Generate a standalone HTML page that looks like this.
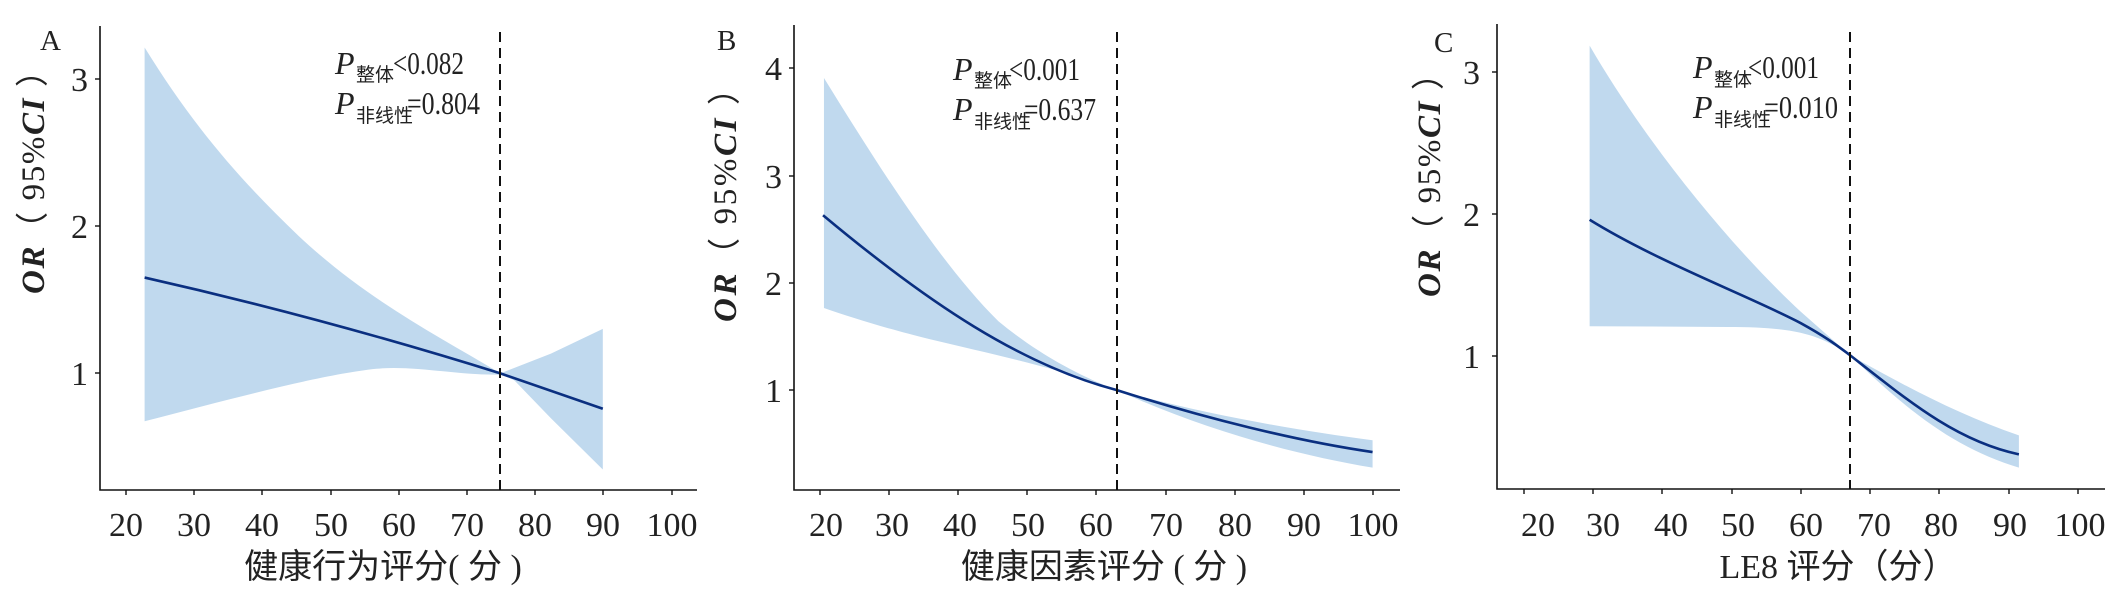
<!DOCTYPE html>
<html><head><meta charset="utf-8"><style>
html,body{margin:0;padding:0;background:#fff;}
svg{display:block;}
text{font-family:"Liberation Serif","Noto Serif CJK SC","Noto Sans CJK SC",serif;fill:#222;}
.cjk{font-family:"Liberation Serif","Noto Sans CJK SC",sans-serif;}
</style></head><body>
<svg width="2126" height="593" viewBox="0 0 2126 593" xmlns="http://www.w3.org/2000/svg">
<!-- ============ Panel A ============ -->
<g transform="scale(0.4591,0.3802)">
<path fill="#c0d9ee" d="M315,125 C420,330 520,470 650,620 C800,790 950,880 1090,982 L1200,930 L1313,865 L1313,1235 L1200,1100 L1120,1000 L1090,985 C1000,988 900,960 820,970 C700,985 500,1050 315,1108 Z"/>
<path fill="none" stroke="#0a2f80" stroke-width="2.6" vector-effect="non-scaling-stroke" d="M315,730 Q700,835 1090,982 L1313,1075"/>
</g>
<line x1="500" y1="32" x2="500" y2="490" stroke="#111" stroke-width="2" stroke-dasharray="10,6"/>
<path d="M100,26 V490 H697" fill="none" stroke="#111" stroke-width="1.6"/>
<g stroke="#111" stroke-width="1.4">
<line x1="95" y1="79" x2="100" y2="79"/><line x1="95" y1="226" x2="100" y2="226"/><line x1="95" y1="373" x2="100" y2="373"/>
<line x1="126" y1="490" x2="126" y2="495"/><line x1="194" y1="490" x2="194" y2="495"/><line x1="262" y1="490" x2="262" y2="495"/><line x1="331" y1="490" x2="331" y2="495"/><line x1="399" y1="490" x2="399" y2="495"/><line x1="467" y1="490" x2="467" y2="495"/><line x1="535" y1="490" x2="535" y2="495"/><line x1="603" y1="490" x2="603" y2="495"/><line x1="672" y1="490" x2="672" y2="495"/>
</g>
<g font-size="34" text-anchor="end"><text x="88" y="91">3</text><text x="88" y="238">2</text><text x="88" y="385">1</text></g>
<g font-size="34" text-anchor="middle"><text x="126" y="536">20</text><text x="194" y="536">30</text><text x="262" y="536">40</text><text x="331" y="536">50</text><text x="399" y="536">60</text><text x="467" y="536">70</text><text x="535" y="536">80</text><text x="603" y="536">90</text><text x="672" y="536">100</text></g>
<text class="cjk" x="383" y="578" font-size="34" text-anchor="middle">健康行为评分( 分 )</text>
<text x="40" y="50" font-size="29">A</text>
<text transform="translate(44,174) rotate(-90)" font-size="33" text-anchor="middle" class="cjk" textLength="240" lengthAdjust="spacing"><tspan font-style="italic" font-weight="bold">OR</tspan>（ 95%<tspan font-style="italic" font-weight="bold">CI</tspan> ）</text>
<text x="335" y="74" font-size="32" font-style="italic">P</text>
<text class="cjk" x="356" y="81" font-size="19">整体</text>
<text x="393" y="74" font-size="32" textLength="71" lengthAdjust="spacingAndGlyphs">&lt;0.082</text>
<text x="335" y="114" font-size="32" font-style="italic">P</text>
<text class="cjk" x="356" y="122" font-size="19">非线性</text>
<text x="407" y="114" font-size="32" textLength="73" lengthAdjust="spacingAndGlyphs">=0.804</text>

<!-- ============ Panel B ============ -->
<g transform="translate(700,0) scale(0.4591,0.3802)">
<path fill="#c0d9ee" d="M270,205 C380,420 520,690 650,845 C750,945 850,1000 908,1026 C1100,1090 1300,1132 1465,1158 L1465,1230 C1300,1197 1100,1132 908,1026 C800,975 650,935 500,892 C400,862 330,835 270,810 Z"/>
<path fill="none" stroke="#0a2f80" stroke-width="2.6" vector-effect="non-scaling-stroke" d="M268,566 C500,800 700,960 908,1026 C1100,1100 1300,1160 1465,1189"/>
</g>
<line x1="1117" y1="32" x2="1117" y2="490" stroke="#111" stroke-width="2" stroke-dasharray="10,6"/>
<path d="M794,25 V490 H1400" fill="none" stroke="#111" stroke-width="1.6"/>
<g stroke="#111" stroke-width="1.4">
<line x1="789" y1="68" x2="794" y2="68"/><line x1="789" y1="176" x2="794" y2="176"/><line x1="789" y1="283" x2="794" y2="283"/><line x1="789" y1="390" x2="794" y2="390"/>
<line x1="820" y1="490" x2="820" y2="495"/><line x1="889" y1="490" x2="889" y2="495"/><line x1="958" y1="490" x2="958" y2="495"/><line x1="1027" y1="490" x2="1027" y2="495"/><line x1="1096" y1="490" x2="1096" y2="495"/><line x1="1166" y1="490" x2="1166" y2="495"/><line x1="1235" y1="490" x2="1235" y2="495"/><line x1="1304" y1="490" x2="1304" y2="495"/><line x1="1373" y1="490" x2="1373" y2="495"/>
</g>
<g font-size="34" text-anchor="end"><text x="782" y="80">4</text><text x="782" y="188">3</text><text x="782" y="295">2</text><text x="782" y="402">1</text></g>
<g font-size="34" text-anchor="middle"><text x="826" y="536">20</text><text x="892" y="536">30</text><text x="960" y="536">40</text><text x="1028" y="536">50</text><text x="1096" y="536">60</text><text x="1166" y="536">70</text><text x="1235" y="536">80</text><text x="1304" y="536">90</text><text x="1373" y="536">100</text></g>
<text class="cjk" x="1104" y="578" font-size="34" text-anchor="middle">健康因素评分 ( 分 )</text>
<text x="717" y="50" font-size="29">B</text>
<text transform="translate(736,197) rotate(-90)" font-size="33" text-anchor="middle" class="cjk" textLength="250" lengthAdjust="spacing"><tspan font-style="italic" font-weight="bold">OR</tspan>（ 95%<tspan font-style="italic" font-weight="bold">CI</tspan> ）</text>
<text x="953" y="80" font-size="32" font-style="italic">P</text>
<text class="cjk" x="974" y="87" font-size="19">整体</text>
<text x="1009" y="80" font-size="32" textLength="71" lengthAdjust="spacingAndGlyphs">&lt;0.001</text>
<text x="953" y="120" font-size="32" font-style="italic">P</text>
<text class="cjk" x="974" y="128" font-size="19">非线性</text>
<text x="1024" y="120" font-size="32" textLength="72" lengthAdjust="spacingAndGlyphs">=0.637</text>

<!-- ============ Panel C ============ -->
<g transform="translate(1406,0) scale(0.4591,0.3802)">
<path fill="#c0d9ee" d="M400,120 C520,370 700,640 860,820 L968,935 C1080,1010 1200,1090 1335,1145 L1335,1230 C1200,1180 1100,1090 968,935 C900,880 850,860 700,860 L400,858 Z"/>
<path fill="none" stroke="#0a2f80" stroke-width="2.6" vector-effect="non-scaling-stroke" d="M400,578 C550,690 750,780 860,850 C920,890 940,910 968,935 C1100,1060 1200,1160 1335,1195"/>
</g>
<line x1="1850" y1="32" x2="1850" y2="489" stroke="#111" stroke-width="2" stroke-dasharray="10,6"/>
<path d="M1497,24 V489 H2105" fill="none" stroke="#111" stroke-width="1.6"/>
<g stroke="#111" stroke-width="1.4">
<line x1="1492" y1="72" x2="1497" y2="72"/><line x1="1492" y1="214" x2="1497" y2="214"/><line x1="1492" y1="356" x2="1497" y2="356"/>
<line x1="1524" y1="489" x2="1524" y2="494"/><line x1="1593" y1="489" x2="1593" y2="494"/><line x1="1662" y1="489" x2="1662" y2="494"/><line x1="1732" y1="489" x2="1732" y2="494"/><line x1="1801" y1="489" x2="1801" y2="494"/><line x1="1870" y1="489" x2="1870" y2="494"/><line x1="1939" y1="489" x2="1939" y2="494"/><line x1="2009" y1="489" x2="2009" y2="494"/><line x1="2078" y1="489" x2="2078" y2="494"/>
</g>
<g font-size="34" text-anchor="end"><text x="1480" y="84">3</text><text x="1480" y="226">2</text><text x="1480" y="368">1</text></g>
<g font-size="34" text-anchor="middle"><text x="1538" y="536">20</text><text x="1603" y="536">30</text><text x="1671" y="536">40</text><text x="1738" y="536">50</text><text x="1806" y="536">60</text><text x="1874" y="536">70</text><text x="1941" y="536">80</text><text x="2010" y="536">90</text><text x="2080" y="536">100</text></g>
<text class="cjk" x="1838" y="578" font-size="34" text-anchor="middle">LE8 评分（分）</text>
<text x="1434" y="52" font-size="29">C</text>
<text transform="translate(1440,177) rotate(-90)" font-size="33" text-anchor="middle" class="cjk" textLength="240" lengthAdjust="spacing"><tspan font-style="italic" font-weight="bold">OR</tspan>（ 95%<tspan font-style="italic" font-weight="bold">CI</tspan> ）</text>
<text x="1693" y="78" font-size="32" font-style="italic">P</text>
<text class="cjk" x="1714" y="86" font-size="19">整体</text>
<text x="1748" y="78" font-size="32" textLength="71" lengthAdjust="spacingAndGlyphs">&lt;0.001</text>
<text x="1693" y="118" font-size="32" font-style="italic">P</text>
<text class="cjk" x="1714" y="126" font-size="19">非线性</text>
<text x="1764" y="118" font-size="32" textLength="74" lengthAdjust="spacingAndGlyphs">=0.010</text>
</svg>
</body></html>
